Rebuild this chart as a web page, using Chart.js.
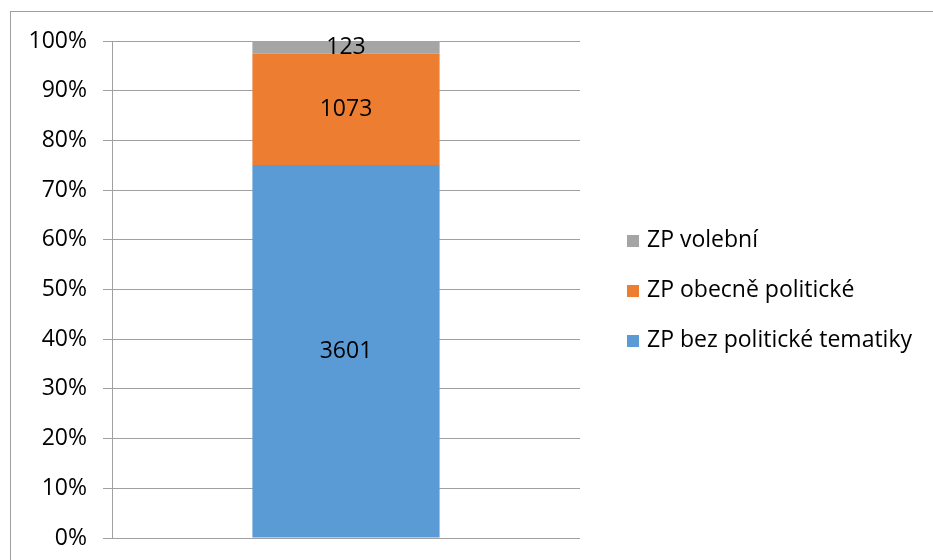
<!DOCTYPE html>
<html lang="cs">
<head>
    <meta charset="UTF-8">
    <title>ZP podle tematiky</title>
    <script src="https://cdn.jsdelivr.net/npm/chart.js"></script>
    <style>
        html, body {
            margin: 0;
            padding: 0;
            overflow: hidden;
            background: #fff;
        }
        #frame {
            position: absolute;
            left: 10px;
            top: 11px;
            width: 960px;
            height: 600px;
            border: 1px solid #a0a0a0;
        }
        #chart-container {
            position: absolute;
            left: 0;
            top: 0;
            width: 933px;
            height: 560px;
        }
    </style>
</head>
<body>
    <div id="frame"></div>
    <div id="chart-container">
        <canvas id="myChart" width="933" height="560"></canvas>
    </div>

    <script>
        // data
        const categories = [''];
        const seriesNames = ['ZP bez politické tematiky', 'ZP obecně politické', 'ZP volební'];
        const seriesValues = [[3601], [1073], [123]];
        const seriesColors = ['#5b9bd5', '#ed7d31', '#a5a5a5'];
        const percentTicks = [0, 10, 20, 30, 40, 50, 60, 70, 80, 90, 100];

        const FONT = "'Open Sans', sans-serif";
        const FONT_SIZE = 23;

        // totals per category, used to turn counts into shares
        const totals = categories.map((c, i) => seriesValues.reduce((s, arr) => s + arr[i], 0));

        const datasets = seriesNames.map((name, k) => ({
            label: name,
            data: seriesValues[k].map((v, i) => v / totals[i] * 100),
            raw: seriesValues[k],
            backgroundColor: seriesColors[k],
            borderWidth: 0,
            barPercentage: 0.4,
            categoryPercentage: 1
        }));

        // value labels in the middle of each segment
        const valueLabels = {
            id: 'valueLabels',
            afterDatasetsDraw(chart) {
                const ctx = chart.ctx;
                ctx.save();
                ctx.font = FONT_SIZE + 'px ' + FONT;
                ctx.fillStyle = '#000';
                ctx.textAlign = 'center';
                ctx.textBaseline = 'middle';
                chart.data.datasets.forEach((ds, k) => {
                    chart.getDatasetMeta(k).data.forEach((bar, i) => {
                        const p = bar.getCenterPoint();
                        ctx.fillText(String(ds.raw[i]), p.x, p.y);
                    });
                });
                ctx.restore();
            }
        };

        // legend drawn to the right, top item = last series
        const sideLegend = {
            id: 'sideLegend',
            afterDraw(chart) {
                const ctx = chart.ctx;
                const x = 627;
                const yMid = 290;
                const step = 50;
                const items = chart.data.datasets.slice().reverse();
                ctx.save();
                ctx.font = FONT_SIZE + 'px ' + FONT;
                ctx.textBaseline = 'middle';
                ctx.textAlign = 'left';
                items.forEach((ds, n) => {
                    const y = yMid + (n - (items.length - 1) / 2) * step;
                    ctx.fillStyle = ds.backgroundColor;
                    ctx.fillRect(x, y - 5, 12, 12);
                    ctx.fillStyle = '#000';
                    ctx.fillText(ds.label, x + 20, y);
                });
                ctx.restore();
            }
        };

        const ctx = document.getElementById('myChart').getContext('2d');
        new Chart(ctx, {
            type: 'bar',
            data: {
                labels: categories,
                datasets: datasets
            },
            options: {
                responsive: false,
                animation: false,
                layout: {
                    padding: { top: 41, bottom: 22, left: 0, right: 353 }
                },
                plugins: {
                    legend: { display: false },
                    tooltip: { enabled: false }
                },
                scales: {
                    x: {
                        stacked: true,
                        display: false
                    },
                    y: {
                        stacked: true,
                        min: 0,
                        max: 100,
                        afterFit(scale) {
                            scale.width = 112;
                            scale.paddingTop = 0;
                            scale.paddingBottom = 0;
                        },
                        afterBuildTicks(scale) {
                            scale.ticks = percentTicks.map(v => ({ value: v }));
                        },
                        ticks: {
                            padding: 16,
                            color: '#000',
                            font: { family: FONT, size: FONT_SIZE },
                            callback: v => v + '%'
                        },
                        grid: {
                            color: '#a0a0a0',
                            lineWidth: 1,
                            tickLength: 9
                        },
                        border: { color: '#a0a0a0' }
                    }
                }
            },
            plugins: [valueLabels, sideLegend]
        });
    </script>
</body>
</html>
